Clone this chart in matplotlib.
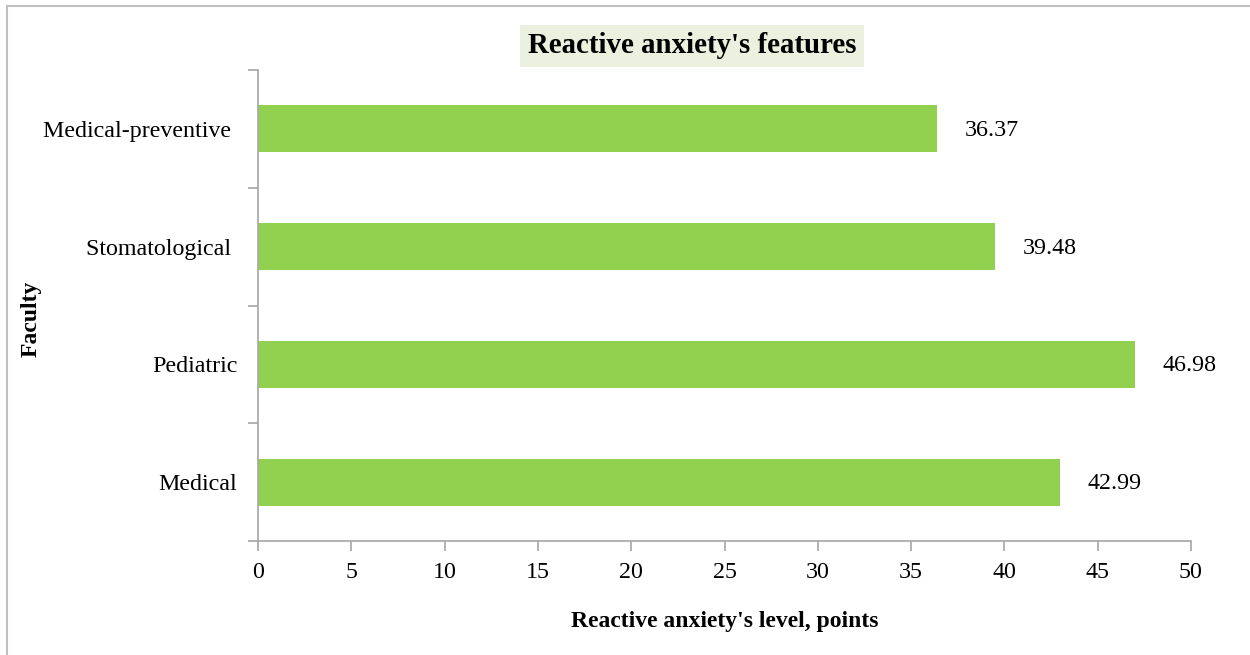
import matplotlib.pyplot as plt
from matplotlib.lines import Line2D

# Reactive anxiety by faculty (bottom to top as drawn)
faculties = ["Medical", "Pediatric", "Stomatological ", "Medical-preventive "]
scores = [42.99, 46.98, 39.48, 36.37]
x_ticks = [0, 5, 10, 15, 20, 25, 30, 35, 40, 45, 50]

plt.rcParams['font.family'] = ['Liberation Serif', 'DejaVu Serif']
axis_grey = "#A6A6A6"

fig = plt.figure(figsize=(12.5, 6.55), dpi=100)
ax = fig.add_axes([0.2064, 0.1740, 0.9528 - 0.2064, 0.8931 - 0.1740])

pos = list(range(len(faculties)))
ax.barh(pos, scores, height=0.4, color="#92D050")

for y, v in zip(pos, scores):
    ax.annotate(f"{v:.2f}", (v, y), xytext=(20, -1), textcoords="offset points",
                va="center", ha="left", fontsize=17.3)

ax.set_xlim(0, 50)
ax.set_ylim(-0.5, len(faculties) - 0.5)
ax.set_xticks(x_ticks)
ax.set_xticklabels([str(t) for t in x_ticks], fontsize=17.3)

# category labels sit between boundary ticks
ax.set_yticks([p - 0.5 for p in pos] + [len(faculties) - 0.5])
ax.set_yticklabels([])
ax.set_yticks(pos, minor=True)
ax.set_yticklabels(faculties, minor=True, fontsize=17.3)
ax.tick_params(axis='y', which='minor', length=0, pad=15)
ax.tick_params(axis='y', which='major', length=7, color=axis_grey, width=1.2)
ax.tick_params(axis='x', length=7, color=axis_grey, width=1.2, pad=8)

for side in ["top", "right"]:
    ax.spines[side].set_visible(False)
for side in ["left", "bottom"]:
    ax.spines[side].set_color(axis_grey)
    ax.spines[side].set_linewidth(1.2)

ax.set_xlabel("Reactive anxiety's level, points", fontsize=17, fontweight="bold",
              labelpad=20)
fig.text(0.025, 0.514, "Faculty", rotation=90, fontsize=17, fontweight="bold",
         va="center", ha="center")

fig.text(0.5536, 0.9298, "Reactive anxiety's features", fontsize=20.8,
         fontweight="bold", ha="center", va="center",
         bbox=dict(facecolor="#EBF1DE", edgecolor="none", pad=5.5))

# chart frame, cut off at right and bottom
fig.add_artist(Line2D([0.0056, 0.0056], [0, 1 - 6 / 655], transform=fig.transFigure,
                      color="#BFBFBF", lw=1.5))
fig.add_artist(Line2D([0.0056, 1.0], [1 - 6 / 655, 1 - 6 / 655], transform=fig.transFigure,
                      color="#BFBFBF", lw=1.5))

fig.savefig("out.png", dpi=100)
